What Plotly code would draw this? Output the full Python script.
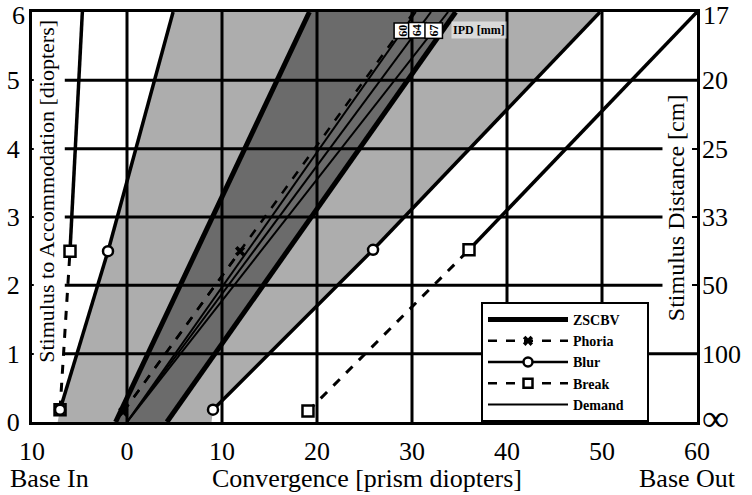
import plotly.graph_objects as go

# ---------------- data ----------------
# Blur limits (base in / base out): convergence [prism diopters] vs accommodation [D]
blur_bi_x = [-7.05, -2.0]
blur_bi_y = [0.18, 2.5]
blur_bi_ext_x = [-2.0, 4.85]
blur_bi_ext_y = [2.5, 6.0]
blur_bo_x = [9.05, 25.9]
blur_bo_y = [0.18, 2.52]
blur_bo_ext_x = [25.9, 49.8]
blur_bo_ext_y = [2.52, 6.0]

# Break limits
break_bi_x = [-7.05, -6.0]
break_bi_y = [0.18, 2.5]
break_bi_ext_x = [-6.0, -4.7]
break_bi_ext_y = [2.5, 6.0]
break_bo_x = [19.05, 36.0]
break_bo_y = [0.16, 2.52]
break_bo_ext_x = [36.0, 60.0]
break_bo_ext_y = [2.52, 6.0]

# Phoria
phoria_x = [-0.4, 11.9]
phoria_y = [0.15, 2.5]
phoria_ext_x = [11.9, 30.2]
phoria_ext_y = [2.5, 6.0]

# Comfort zone (dark wedge) edges
zone_left_x = [-1.2, 19.2]
zone_left_y = [0.0, 6.0]
zone_right_x = [4.2, 34.6]
zone_right_y = [0.0, 6.0]

# Demand lines for IPD [mm]
ipd_labels = ["60", "64", "67"]
demand_end_x = [30.4, 32.0, 33.8]
demand_start = (0.0, 0.0)

# Axis ticks
x_tickvals = [-10, 0, 10, 20, 30, 40, 50, 60]
x_ticktext = ["10", "0", "10", "20", "30", "40", "50", "60"]
y_tickvals = [0, 1, 2, 3, 4, 5]
y_ticktext = ["0", "1", "2", "3", "4", "5"]
y_top_label = "6"
dist_tickvals = [0, 1, 2, 3, 4, 5]
dist_ticktext = ['<span style="font-size:38px">∞</span>', "100", "50", "33", "25", "20"]
dist_top_label = "17"

FONT = "Liberation Serif"
BLACK = "black"

fig = go.Figure()

# light gray zone (between blur limits)
light_x = [-7.3] + blur_bi_x + blur_bi_ext_x[1:] + blur_bo_ext_x[::-1][0:1] + blur_bo_x[::-1] + [8.9]
light_y = [0.0] + blur_bi_y + blur_bi_ext_y[1:] + blur_bo_ext_y[::-1][0:1] + blur_bo_y[::-1] + [0.0]
fig.add_trace(go.Scatter(x=light_x, y=light_y, fill="toself", mode="lines",
                         line=dict(width=0), fillcolor="rgba(0,0,0,0.32)",
                         showlegend=False, hoverinfo="skip"))
# dark zone
dark_x = zone_left_x + zone_right_x[::-1]
dark_y = zone_left_y + zone_right_y[::-1]
fig.add_trace(go.Scatter(x=dark_x, y=dark_y, fill="toself", mode="lines",
                         line=dict(width=0), fillcolor="rgba(0,0,0,0.38)",
                         showlegend=False, hoverinfo="skip"))

# ZSCBV edges
fig.add_trace(go.Scatter(x=zone_left_x, y=zone_left_y, mode="lines",
                         line=dict(color=BLACK, width=5), name="<b>ZSCBV</b>",
                         legendgroup="z", showlegend=True))
fig.add_trace(go.Scatter(x=zone_right_x, y=zone_right_y, mode="lines",
                         line=dict(color=BLACK, width=5), legendgroup="z",
                         showlegend=False))

# Demand lines
for i, ex in enumerate(demand_end_x):
    fig.add_trace(go.Scatter(x=[demand_start[0], ex], y=[demand_start[1], 6.0], mode="lines",
                             line=dict(color=BLACK, width=2), name="Demand",
                             legendgroup="d", showlegend=False))

# Phoria
fig.add_trace(go.Scatter(x=phoria_x + phoria_ext_x[1:], y=phoria_y + phoria_ext_y[1:],
                         mode="lines", line=dict(color=BLACK, width=2.5, dash="dash"),
                         showlegend=False, legendgroup="p"))
fig.add_trace(go.Scatter(x=phoria_x, y=phoria_y, mode="lines+markers",
                         line=dict(color=BLACK, width=2.5, dash="dash"),
                         marker=dict(symbol="x", size=9, color=BLACK),
                         name="<b>Phoria</b>", legendgroup="p", showlegend=True))

# Blur / break extensions
for xs, ys in [(blur_bi_ext_x, blur_bi_ext_y), (blur_bo_ext_x, blur_bo_ext_y)]:
    fig.add_trace(go.Scatter(x=xs, y=ys, mode="lines", line=dict(color=BLACK, width=3.5),
                             showlegend=False, legendgroup="b"))
for xs, ys in [(break_bi_ext_x, break_bi_ext_y), (break_bo_ext_x, break_bo_ext_y)]:
    fig.add_trace(go.Scatter(x=xs, y=ys, mode="lines", line=dict(color=BLACK, width=3.5),
                             showlegend=False, legendgroup="k"))
for xs, ys in [(break_bi_x, break_bi_y), (break_bo_x, break_bo_y)]:
    fig.add_trace(go.Scatter(x=xs, y=ys, mode="lines+markers",
                             line=dict(color=BLACK, width=3, dash="dash"),
                             marker=dict(symbol="square", size=11, color="white",
                                         line=dict(color=BLACK, width=2.5)),
                             name="Break", legendgroup="k", showlegend=False))
for xs, ys in [(blur_bi_x, blur_bi_y), (blur_bo_x, blur_bo_y)]:
    fig.add_trace(go.Scatter(x=xs, y=ys, mode="lines+markers",
                             line=dict(color=BLACK, width=3.5),
                             marker=dict(symbol="circle", size=10, color="white",
                                         line=dict(color=BLACK, width=2.5)),
                             name="Blur", legendgroup="b", showlegend=False))

# legend-only entries in the required order
fig.add_trace(go.Scatter(x=[None], y=[None], mode="lines+markers",
                         line=dict(color=BLACK, width=2.5),
                         marker=dict(symbol="circle", size=9, color="white",
                                     line=dict(color=BLACK, width=2.5)),
                         name="<b>Blur</b>", legendgroup="b"))
fig.add_trace(go.Scatter(x=[None], y=[None], mode="lines+markers",
                         line=dict(color=BLACK, width=2.5, dash="dash"),
                         marker=dict(symbol="square", size=9, color="white",
                                     line=dict(color=BLACK, width=2.5)),
                         name="<b>Break</b>", legendgroup="k"))
fig.add_trace(go.Scatter(x=[None], y=[None], mode="lines",
                         line=dict(color=BLACK, width=2),
                         name="<b>Demand</b>&nbsp;&nbsp;&nbsp;&nbsp;&nbsp;", legendgroup="d"))

# right axis carrier
fig.add_trace(go.Scatter(x=[None], y=[None], yaxis="y2", showlegend=False))

# grid (drawn as shapes, below traces)
shapes = []
for gx in [0, 10, 20, 30, 40, 50]:
    shapes.append(dict(type="line", xref="x", yref="y", x0=gx, x1=gx, y0=0, y1=6,
                       line=dict(color=BLACK, width=3), layer="below"))
for gy in [1, 2, 3, 4, 5]:
    x1 = 60 if gy in (1, 5) else 56.8
    shapes.append(dict(type="line", xref="x", yref="y", x0=-6.55, x1=x1, y0=gy, y1=gy,
                       line=dict(color=BLACK, width=3), layer="below"))

annotations = []
annotations.append(dict(x=-8.42, y=3.37, xref="x", yref="y", textangle=-90,
                        text="Stimulus to Accommodation [diopters]", showarrow=False,
                        font=dict(family=FONT, size=22, color=BLACK), bgcolor="white",
                        borderpad=0))
annotations.append(dict(x=57.8, y=3.13, xref="x", yref="y", textangle=-90,
                        text="Stimulus Distance [cm]", showarrow=False,
                        font=dict(family=FONT, size=24, color=BLACK), bgcolor="white",
                        borderpad=0))
for txt, cx in [("Base In", 49), ("Convergence [prism diopters]", 367), ("Base Out", 687)]:
    annotations.append(dict(x=(cx - 32) / 665, y=(422 - 478) / 410, xref="paper", yref="paper",
                            xanchor="center", yanchor="middle", text=txt, showarrow=False,
                            font=dict(family=FONT, size=26, color=BLACK)))
# top tick labels (kept inside the page)
annotations.append(dict(x=0, y=1, xref="paper", yref="paper", xanchor="right", yanchor="top",
                        xshift=-6, yshift=12, text=y_top_label, showarrow=False,
                        font=dict(family=FONT, size=26, color=BLACK), borderpad=0))
annotations.append(dict(x=1, y=1, xref="paper", yref="paper", xanchor="left", yanchor="top",
                        xshift=5, yshift=12, text=dist_top_label, showarrow=False,
                        font=dict(family=FONT, size=26, color=BLACK), borderpad=0))
label_y = 5.73
for lab, ex in zip(ipd_labels, demand_end_x):
    lx = demand_start[0] + (ex - demand_start[0]) * label_y / 6.0
    annotations.append(dict(x=lx, y=label_y, xref="x", yref="y", text="<b>%s</b>" % lab,
                            textangle=-90, showarrow=False, bgcolor="white",
                            bordercolor=BLACK, borderwidth=1.5, borderpad=1,
                            font=dict(family=FONT, size=12, color=BLACK)))
annotations.append(dict(x=37.0, y=5.73, xref="x", yref="y", text="<b>IPD [mm]</b>",
                        showarrow=False, bgcolor="rgba(255,255,255,0.55)",
                        font=dict(family=FONT, size=12, color=BLACK)))

fig.update_layout(
    width=752, height=495,
    margin=dict(l=32, r=55, t=12, b=73, autoexpand=False),
    paper_bgcolor="white", plot_bgcolor="white",
    font=dict(family=FONT, size=26, color=BLACK),
    xaxis=dict(range=[-10, 60], tickvals=x_tickvals, ticktext=x_ticktext,
               showgrid=False, zeroline=False, showline=True, linecolor=BLACK,
               linewidth=3, mirror=True, ticks="", ticklen=0, ticklabelstandoff=4,
               automargin=False, ticklabeloverflow="allow",
               tickfont=dict(family=FONT, size=26, color=BLACK)),
    yaxis=dict(range=[0, 6], tickvals=y_tickvals, ticktext=y_ticktext,
               showgrid=False, zeroline=False,
               showline=True, linecolor=BLACK, linewidth=3, mirror=True,
               ticks="inside", ticklen=5, tickwidth=2, tickcolor=BLACK,
               ticklabelstandoff=4, automargin=False, ticklabeloverflow="allow",
               tickfont=dict(family=FONT, size=26, color=BLACK)),
    yaxis2=dict(range=[0, 6], overlaying="y", side="right", tickvals=dist_tickvals,
                ticktext=dist_ticktext, showgrid=False, zeroline=False,
                ticks="inside", ticklen=5, tickwidth=2, tickcolor=BLACK,
                ticklabelstandoff=4, automargin=False, ticklabeloverflow="allow",
                tickfont=dict(family=FONT, size=26, color=BLACK)),
    legend=dict(x=(481 - 32) / 665, y=(422 - 302) / 410, xanchor="left", yanchor="top",
                bgcolor="white", bordercolor=BLACK, borderwidth=2,
                font=dict(family=FONT, size=14, color=BLACK), itemwidth=80,
                traceorder="normal", tracegroupgap=0),
    shapes=shapes, annotations=annotations, showlegend=True,
)

fig.write_html("out.html", config={"displayModeBar": False},
               post_script="document.body.style.margin='0';document.body.style.overflow='hidden';")
